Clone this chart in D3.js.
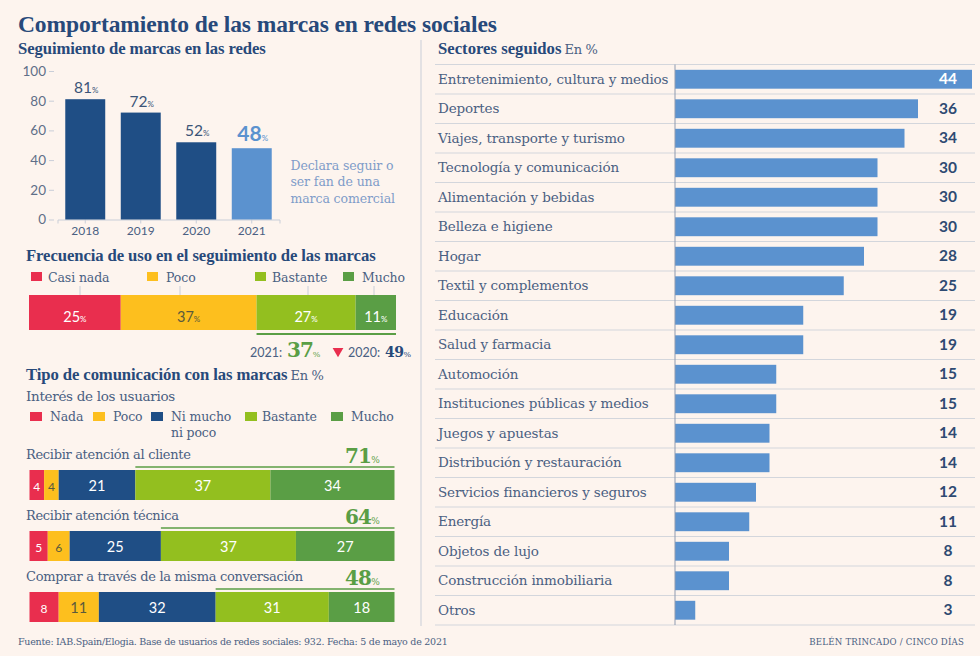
<!DOCTYPE html>
<html>
<head>
<meta charset="utf-8">
<script src="https://cdn.jsdelivr.net/npm/d3@7"></script>
<style>
  html, body { margin: 0; padding: 0; background: #fdf4ee; }
  svg { display: block; }
  text { font-family: "DejaVu Serif", serif; fill: #4a6082; }
  .sans { font-family: "Lato", sans-serif; }
  .head { font-family: "Liberation Serif", serif; font-weight: bold; fill: #27497a; }
  .unit { font-family: "DejaVu Serif", serif; font-size: 13px; letter-spacing: -0.3px; font-weight: normal; fill: #4a6082; }
</style>
</head>
<body>
<div id="chart"></div>
<script>
const years = ["2018", "2019", "2020", "2021"];
const followValues = [81, 72, 52, 48];
const followTicks = [0, 20, 40, 60, 80, 100];
const followNote = ["Declara seguir o", "ser fan de una", "marca comercial"];

const freqLabels = ["Casi nada", "Poco", "Bastante", "Mucho"];
const freqValues = [25, 37, 27, 11];
const freqColors = ["#e92e4e", "#fdbf1e", "#93bf1f", "#5a9e45"];
const freqLegendX = [31, 147, 255, 343];
const freqTickX = [80, 180, 308, 374];

const interestLabels = ["Nada", "Poco", "Ni mucho", "Bastante", "Mucho"];
const interestColors = ["#e92e4e", "#fdbf1e", "#1f4e85", "#93bf1f", "#5a9e45"];
const interestLegendX = [30, 93, 151, 245, 331];

const commNames = ["Recibir atención al cliente", "Recibir atención técnica", "Comprar a través de la misma conversación"];
const commTotals = [71, 64, 48];
const commClient = [4, 4, 21, 37, 34];
const commTech = [5, 6, 25, 37, 27];
const commBuy = [8, 11, 32, 31, 18];
const commRowY = [470, 531, 592];

const sectors = ["Entretenimiento, cultura y medios", "Deportes", "Viajes, transporte y turismo",
  "Tecnología y comunicación", "Alimentación y bebidas", "Belleza e higiene", "Hogar",
  "Textil y complementos", "Educación", "Salud y farmacia", "Automoción",
  "Instituciones públicas y medios", "Juegos y apuestas", "Distribución y restauración",
  "Servicios financieros y seguros", "Energía", "Objetos de lujo", "Construcción inmobiliaria", "Otros"];
const sectorValues = [44, 36, 34, 30, 30, 30, 28, 25, 19, 19, 15, 15, 14, 14, 12, 11, 8, 8, 3];

const width = 980, height = 656;
const navy = "#1f4e85", lightBlue = "#5b92cf", green = "#5a9e45", axisGrey = "#c9ced8";

const svg = d3.select("#chart").append("svg")
  .attr("width", width)
  .attr("height", height);

function label(parent, x, y, txt, size, opts = {}) {
  return parent.append("text")
    .attr("x", x)
    .attr("y", y)
    .attr("text-anchor", opts.anchor || "start")
    .attr("class", opts.cls || null)
    .style("font-size", size + "px")
    .style("letter-spacing", (opts.spacing || 0) + "px")
    .style("font-weight", opts.weight || null)
    .style("fill", opts.fill || null)
    .text(txt);
}

// value + small % sign, as in the print graphic
function percent(parent, x, y, value, size, opts = {}) {
  const t = label(parent, x, y, value, size, opts);
  t.append("tspan")
    .style("font-size", (opts.small || size * 0.5) + "px")
    .style("font-weight", "normal")
    .style("letter-spacing", "0px")
    .text("%");
  return t;
}

label(svg, 18, 32, "Comportamiento de las marcas en redes sociales", 23.5, { cls: "head", spacing: -0.1 });
label(svg, 18, 54, "Seguimiento de marcas en las redes", 16.7, { cls: "head", spacing: -0.1 });

// ---- seguimiento, columnas
const xFollow = d3.scaleBand().domain(years).range([57.5, 279.5]).paddingInner(0.28).paddingOuter(0.14);
const yFollow = d3.scaleLinear().domain([0, 100]).range([219.5, 71]);

const yAxisFollow = d3.axisLeft(yFollow).tickValues(followTicks).tickSize(5).tickPadding(3);
const gy = svg.append("g").attr("transform", "translate(54,0)").call(yAxisFollow);
gy.select(".domain").remove();
gy.selectAll("line").attr("stroke", axisGrey);
gy.selectAll("text").attr("class", "sans").style("font-size", "13.5px").style("fill", "#5f6f88");

const xAxisFollow = d3.axisBottom(xFollow).tickSize(4).tickPadding(3);
const gx = svg.append("g").attr("transform", "translate(0,219.5)").call(xAxisFollow);
gx.select(".domain").attr("stroke", axisGrey);
gx.selectAll("line").attr("stroke", axisGrey);
gx.selectAll("text").attr("class", "sans").style("font-size", "12px").style("fill", "#4a6082");

svg.selectAll(".follow")
  .data(years)
  .enter()
  .append("rect")
  .attr("class", "follow")
  .attr("x", d => xFollow(d))
  .attr("y", (d, i) => yFollow(followValues[i]))
  .attr("width", xFollow.bandwidth())
  .attr("height", (d, i) => yFollow(0) - yFollow(followValues[i]))
  .attr("fill", (d, i) => i === 3 ? lightBlue : navy);

years.forEach((d, i) => {
  const last = i === 3;
  percent(svg, xFollow(d) + xFollow.bandwidth() / 2 + 1, yFollow(followValues[i]) - (last ? 7 : 6), followValues[i], last ? 21 : 15.5,
    { cls: "sans", anchor: "middle", weight: last ? "bold" : null, fill: last ? lightBlue : "#3b5478", small: 8 });
});

followNote.forEach((d, i) => label(svg, 290.5, 170 + i * 16.3, d, 12.5, { fill: "#7f9cc9", spacing: -0.1 }));

// ---- frecuencia de uso
label(svg, 26, 261, "Frecuencia de uso en el seguimiento de las marcas", 16.7, { cls: "head", spacing: -0.1 });

const xFreq = d3.scaleLinear().domain([0, 100]).range([29, 396]);
const freqStart = d3.cumsum([0].concat(freqValues));

freqLabels.forEach((d, i) => {
  svg.append("rect")
    .attr("x", freqLegendX[i])
    .attr("y", 272)
    .attr("width", 11)
    .attr("height", 9)
    .attr("fill", freqColors[i]);
  label(svg, freqLegendX[i] + (i === 1 ? 19 : i === 3 ? 19 : 17), 281.5, d, 12.5, { spacing: -0.1 });
  svg.append("line")
    .attr("x1", freqTickX[i])
    .attr("x2", freqTickX[i])
    .attr("y1", 286)
    .attr("y2", 300)
    .attr("stroke", axisGrey);
});

svg.selectAll(".freq")
  .data(freqValues)
  .enter()
  .append("rect")
  .attr("class", "freq")
  .attr("x", (d, i) => xFreq(freqStart[i]))
  .attr("y", 295)
  .attr("width", d => xFreq(d) - xFreq(0))
  .attr("height", 35)
  .attr("fill", (d, i) => freqColors[i]);

freqValues.forEach((d, i) => {
  percent(svg, xFreq(freqStart[i] + d / 2), 322, d, 14.5,
    { cls: "sans", anchor: "middle", fill: i === 1 ? "#5a5a3c" : "#fff", small: 8 });
});

svg.append("line")
  .attr("x1", xFreq(62))
  .attr("x2", xFreq(100))
  .attr("y1", 334)
  .attr("y2", 334)
  .attr("stroke", green)
  .attr("stroke-width", 2);

label(svg, 250, 357, "2021:", 12.5, { cls: "sans" });
percent(svg, 287, 357, 37, 20, { weight: "bold", fill: green, small: 8, spacing: -1 });
svg.append("path")
  .attr("d", d3.symbol(d3.symbolTriangle, 50))
  .attr("transform", "translate(338,351) rotate(180)")
  .attr("fill", "#e92e4e");
label(svg, 348, 357, "2020:", 12.5, { cls: "sans" });
percent(svg, 385, 357, 49, 14, { weight: "bold", fill: "#27497a", small: 8, spacing: -0.5 });

// ---- tipo de comunicacion
const commHead = label(svg, 26, 380, "Tipo de comunicación con las marcas", 16.7, { cls: "head", spacing: -0.1 });
commHead.append("tspan").attr("dx", 3).attr("class", "unit").text("En %");
label(svg, 26, 401, "Interés de los usuarios", 13.5, { spacing: -0.3 });

interestLabels.forEach((d, i) => {
  svg.append("rect")
    .attr("x", interestLegendX[i])
    .attr("y", 412)
    .attr("width", 12)
    .attr("height", 9)
    .attr("fill", interestColors[i]);
  label(svg, interestLegendX[i] + (i === 3 ? 17 : 20), 421, d, 12.5, { spacing: -0.15 });
});
label(svg, 171, 437, "ni poco", 12.5, { spacing: -0.15 });

const xComm = d3.scaleLinear().domain([0, 100]).range([29.5, 394.5]);

[commClient, commTech, commBuy].forEach((values, r) => {
  const starts = d3.cumsum([0].concat(values));
  const rowY = commRowY[r];
  label(svg, 26, rowY - 11, commNames[r], 13, { spacing: -0.32 });
  percent(svg, 345, rowY - 7, commTotals[r], 20, { weight: "bold", fill: green, small: 9, spacing: -0.8 });
  svg.append("line")
    .attr("x1", xComm(starts[3]))
    .attr("x2", xComm(100))
    .attr("y1", rowY - 3)
    .attr("y2", rowY - 3)
    .attr("stroke", green)
    .attr("stroke-width", 1.5);

  svg.selectAll(".comm" + r)
    .data(values)
    .enter()
    .append("rect")
    .attr("class", "comm" + r)
    .attr("x", (d, i) => xComm(starts[i]))
    .attr("y", rowY)
    .attr("width", d => xComm(d) - xComm(0))
    .attr("height", 30)
    .attr("fill", (d, i) => interestColors[i]);

  values.forEach((d, i) => {
    label(svg, xComm(starts[i] + d / 2), rowY + 20.5, d, d < 10 ? 12 : 14.5,
      { cls: "sans", anchor: "middle", fill: i === 1 ? "#5a5a3c" : "#fff" });
  });
});

// ---- sectores
svg.append("line")
  .attr("x1", 421)
  .attr("x2", 421)
  .attr("y1", 40)
  .attr("y2", 626)
  .attr("stroke", axisGrey);

const sectorHead = label(svg, 438, 54, "Sectores seguidos", 16.7, { cls: "head", spacing: 0 });
sectorHead.append("tspan").attr("dx", 3).attr("class", "unit").text("En %");

const xSector = d3.scaleLinear().domain([0, 44]).range([675, 972]);
const ySector = d3.scaleBand().domain(sectors).range([64.5, 625]).paddingInner(0.36).paddingOuter(0.18);
const sectorStep = ySector.step();

svg.selectAll(".rowline")
  .data(d3.range(sectors.length + 1))
  .enter()
  .append("line")
  .attr("class", "rowline")
  .attr("x1", 435)
  .attr("x2", 975)
  .attr("y1", d => 64.5 + d * sectorStep)
  .attr("y2", d => 64.5 + d * sectorStep)
  .attr("stroke", "#d3d6dc");

svg.selectAll(".sector")
  .data(sectors)
  .enter()
  .append("rect")
  .attr("class", "sector")
  .attr("x", xSector(0))
  .attr("y", d => ySector(d))
  .attr("width", (d, i) => xSector(sectorValues[i]) - xSector(0))
  .attr("height", ySector.bandwidth())
  .attr("fill", lightBlue);

svg.append("line")
  .attr("x1", xSector(0))
  .attr("x2", xSector(0))
  .attr("y1", 64.5)
  .attr("y2", 625)
  .attr("stroke", "#8f9bb0");

sectors.forEach((d, i) => {
  const yMid = ySector(d) + ySector.bandwidth() / 2;
  label(svg, 438, yMid + 4.5, d, 13.5, { spacing: -0.14 });
  label(svg, 948, yMid + 5, sectorValues[i], 15.5,
    { cls: "sans", anchor: "middle", weight: "bold", fill: i === 0 ? "#fff" : "#2e4a72" });
});

// ---- pie
label(svg, 18, 645, "Fuente: IAB.Spain/Elogia. Base de usuarios de redes sociales: 932. Fecha: 5 de mayo de 2021", 9.5, { spacing: -0.25 });
label(svg, 964, 645, "BELÉN TRINCADO / CINCO DÍAS", 8.6, { anchor: "end", spacing: 0.2 });
</script>
</body>
</html>
